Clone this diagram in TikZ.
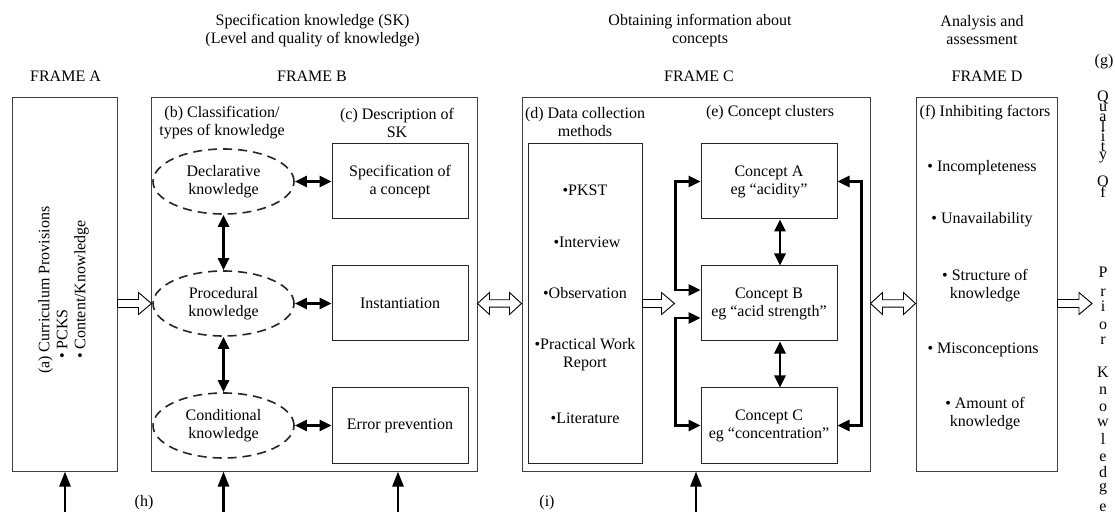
\documentclass[tikz,border=0pt]{standalone}
\usepackage{fontspec}
\setmainfont{Liberation Serif}
\usetikzlibrary{arrows.meta,shapes.geometric,calc}

\begin{document}
\begin{tikzpicture}[x=1bp,y=-1bp,
  every node/.style={font=\fontsize{16bp}{18bp}\selectfont, inner sep=0pt, align=center},
  frame/.style={draw=black!75, line width=1bp, minimum height=373bp},
  box/.style={draw=black!85, line width=1bp, minimum width=136bp, minimum height=75bp},
  kind/.style={ellipse, draw=black!85, line width=1.6bp, dash pattern=on 9bp off 6bp,
    minimum width=141bp, minimum height=65bp},
  link/.style={line width=2.6bp, {Triangle[length=12bp,width=11bp]}-{Triangle[length=12bp,width=11bp]}},
  feed/.style={line width=2.5bp, -{Triangle[length=15bp,width=11bp]}},
  hollow/.style={draw=black, line width=0.9bp, fill=white, line join=miter},
  onearrow/.style={to path={let \p1=(\tikztostart), \p2=(\tikztotarget) in
     (\x1,\y1+4bp) -- (\x2-13bp,\y1+4bp) -- (\x2-13bp,\y1+11bp) -- (\x2,\y1)
     -- (\x2-13bp,\y1-11bp) -- (\x2-13bp,\y1-4bp) -- (\x1,\y1-4bp) -- cycle}},
  twoarrow/.style={to path={let \p1=(\tikztostart), \p2=(\tikztotarget) in
     (\x1,\y1) -- (\x1+12bp,\y1+11bp) -- (\x1+12bp,\y1+3.7bp) -- (\x2-12bp,\y1+3.7bp)
     -- (\x2-12bp,\y1+11bp) -- (\x2,\y1) -- (\x2-12bp,\y1-11bp) -- (\x2-12bp,\y1-3.7bp)
     -- (\x1+12bp,\y1-3.7bp) -- (\x1+12bp,\y1-11bp) -- cycle}},
]
\fill[white] (0,0) rectangle (1115,512);
\useasboundingbox (0,0) rectangle (1115,512);

% headings
\node (hB) at (312.5,30.5) {Specification knowledge (SK)\\(Level and quality of knowledge)};
\node (hC) at (700,30.5) {Obtaining information about\\concepts};
\node (hD) at (982,30.5) {Analysis and\\assessment};
\node (tA) at (65.5,76) {FRAME A};
\node (tB) at (312,76) {FRAME B};
\node (tC) at (699,76) {FRAME C};
\node (tD) at (987,76) {FRAME D};

% frames
\node[frame, minimum width=104bp] (fa) at (65,284.5) {};
\node[frame, minimum width=325bp] (fb) at (314.5,284.5) {};
\node[frame, minimum width=348bp] (fc) at (696,284.5) {};
\node[frame, minimum width=141bp] (fd) at (986.5,284.5) {};

% frame A
\node[rotate=90, anchor=north west, align=left] (prov) at (38,374)
  {(a) Curriculum Provisions\\\hspace*{15bp}•\ PCKS\\\hspace*{15bp}•\ Content/Knowledge};

% frame B
\node (lb) at (222,122.5) {(b) Classification/\\types of knowledge};
\node (lc) at (397,122.5) {(c) Description of\\SK};
\node[kind] (decl) at (223.5,181.5) {Declarative\\knowledge};
\node[kind] (proc) at (223.5,303.5) {Procedural\\knowledge};
\node[kind] (cond) at (223.5,425.5) {Conditional\\knowledge};
\node[box] (spec) at (400,181.5) {Specification of\\a concept};
\node[box] (inst) at (400,303.5) {Instantiation};
\node[box] (err) at (400,425.5) {Error prevention};
\draw[link] (decl.east) -- (spec.west);
\draw[link] (proc.east) -- (inst.west);
\draw[link] (cond.east) -- (err.west);
\draw[link] (decl.south) -- (proc.north);
\draw[link] (proc.south) -- (cond.north);

% frame C
\node (ld) at (585,122.5) {(d) Data collection\\methods};
\node (le) at (770,113) {(e) Concept clusters};
\node[draw=black!85, line width=1bp, minimum width=114bp, minimum height=319bp] (data) at (585,303.5) {};
\node (m1) at (585,190) {•PKST};
\node (m2) at (587,242) {•Interview};
\node (m3) at (585,293) {•Observation};
\node (m4) at (585,354.5) {•Practical Work\\Report};
\node (m5) at (585,418) {•Literature};
\node[box] (ca) at (769,181.5) {Concept A\\eg “acidity”};
\node[box] (cb) at (769,303.5) {Concept B\\eg “acid strength”};
\node[box] (cc) at (769,425.5) {Concept C\\eg “concentration”};
\draw[link] ([xshift=11bp]ca.south) -- ([xshift=11bp]cb.north);
\draw[link] ([xshift=11bp]cb.south) -- ([xshift=11bp]cc.north);
\draw[link] (ca.west) -- ++(-25,0) |- ([yshift=13.5bp]cb.west);
\draw[link] ([yshift=-14.5bp]cb.west) -- ++(-25,0) |- (cc.west);
\draw[link] (ca.east) -- ++(24,0) |- (cc.east);

% frame D
\node (lf) at (985,113) {(f) Inhibiting factors};
\node (f1) at (982,168) {• Incompleteness};
\node (f2) at (982,220) {• Unavailability};
\node (f3) at (985,286) {• Structure of\\knowledge};
\node (f4) at (983,350) {• Misconceptions};
\node (f5) at (985,413.5) {• Amount of\\knowledge};

% outcome column
\node[anchor=base] (lg) at (1104,66) {(g)};
\foreach \ch/\yy [count=\i] in {Q/97,u/107,a/117,l/127,i/137,t/147,y/155,O/182,f/193,
    P/273,r/292,i/307,o/325,r/340,K/373,n/390,o/407,w/422,l/440,e/457,d/473,g/487,e/507}
  \node[anchor=base] (q\i) at (1103,\yy+4.5) {\ch};
\coordinate (out) at (1092,303.5);

% flows between frames
\draw[hollow] (fa.east |- proc.center) to[onearrow] (fb.west |- proc.center);
\draw[hollow] (fb.east |- proc.center) to[twoarrow] (fc.west |- proc.center);
\draw[hollow] (data.east |- proc.center) to[onearrow] ([xshift=-26bp]cb.west);
\draw[hollow] (fc.east |- proc.center) to[twoarrow] (fd.west |- proc.center);
\draw[hollow] (fd.east |- proc.center) to[onearrow] (out);

% inputs from below
\coordinate (in1) at (65,512);
\coordinate (in2) at (223.5,512);
\coordinate (in3) at (398,512);
\coordinate (in4) at (696,512);
\draw[feed] (in1) -- (fa.south);
\draw[feed] (in2) -- (in2 |- fb.south);
\draw[feed] (in3) -- (in3 |- fb.south);
\draw[feed] (in4) -- (fc.south);
\node (lh) at (144,503) {(h)};
\node (li) at (547,503) {(i)};
\end{tikzpicture}
\end{document}
